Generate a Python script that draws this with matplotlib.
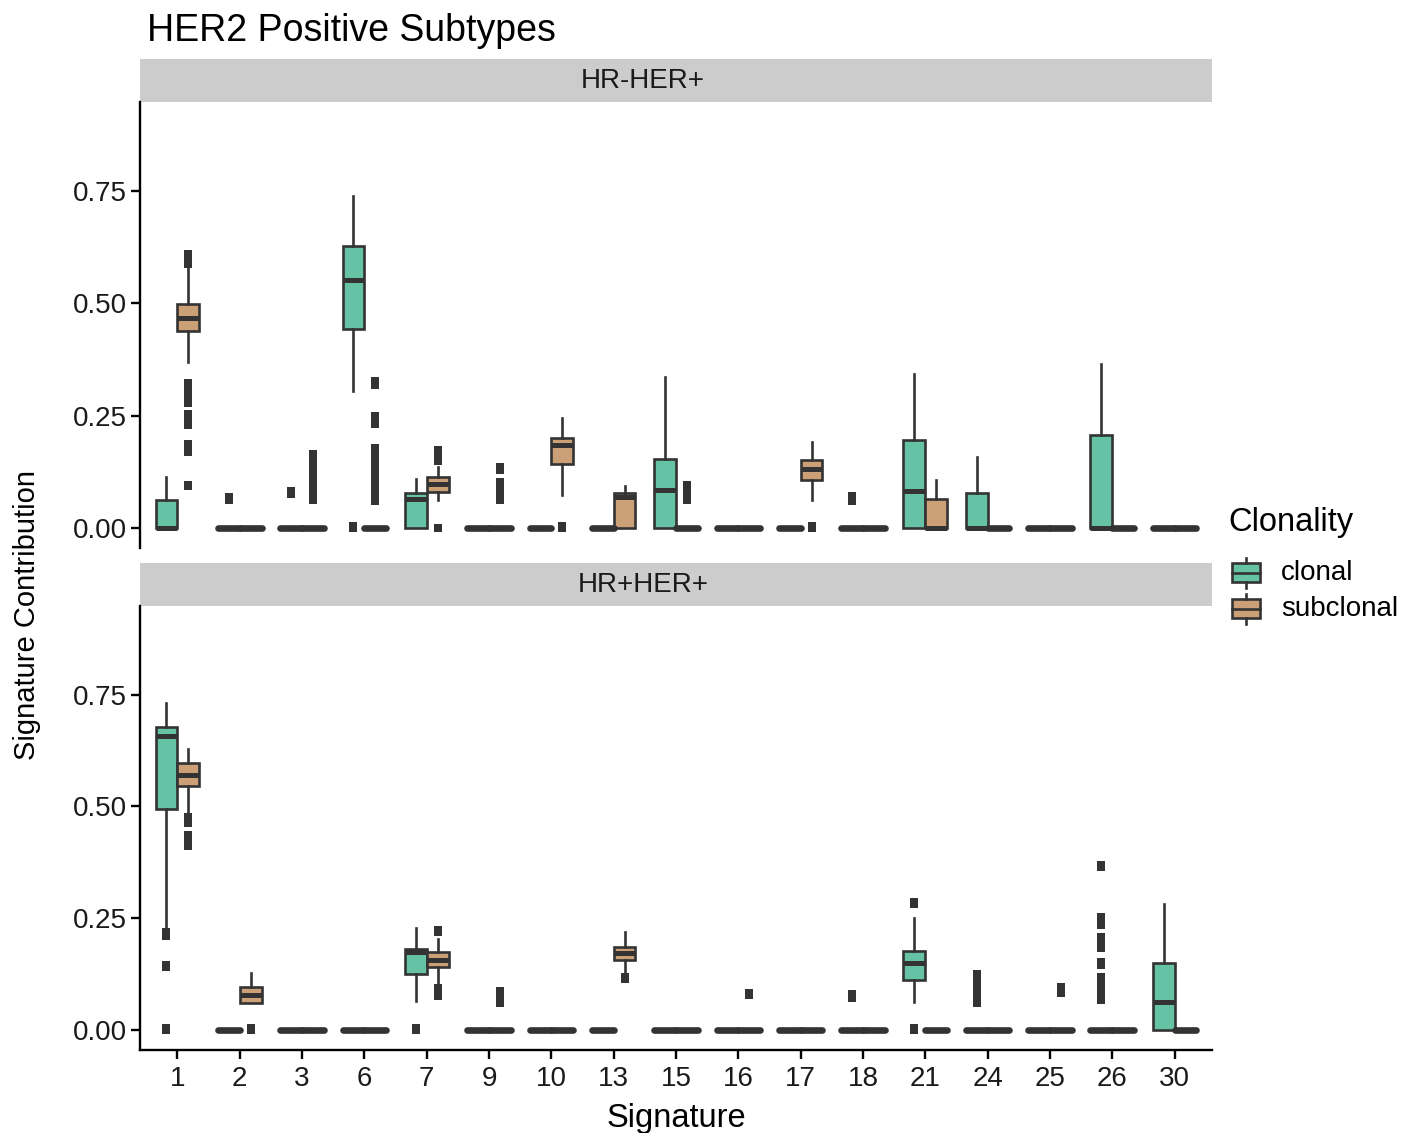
import numpy as np
import matplotlib.pyplot as plt
from matplotlib.patches import Rectangle
from matplotlib.lines import Line2D

plt.rcParams['font.family'] = ['Liberation Sans', 'DejaVu Sans']

signatures = ['1', '2', '3', '6', '7', '9', '10', '13', '15', '16', '17', '18',
              '21', '24', '25', '26', '30']
clonality = ['clonal', 'subclonal']
subtypes = ['HR-HER+', 'HR+HER+']
fills = ['#66C2A5', '#CBA077']
edge = '#333333'

# ---- HR-HER+ : box summaries per signature ----
neg_clonal_lo  = [0, 0, 0, 0.304, 0, 0, 0, 0, 0, 0, 0, 0, 0, 0, 0, 0, 0]
neg_clonal_q1  = [0, 0, 0, 0.443, 0, 0, 0, 0, 0, 0, 0, 0, 0, 0, 0, 0, 0]
neg_clonal_med = [0, 0, 0, 0.551, 0.065, 0, 0, 0, 0.084, 0, 0, 0, 0.082, 0, 0, 0, 0]
neg_clonal_q3  = [0.062, 0, 0, 0.627, 0.077, 0, 0, 0, 0.153, 0, 0, 0, 0.196, 0.077, 0, 0.207, 0]
neg_clonal_hi  = [0.113, 0, 0, 0.739, 0.109, 0, 0, 0, 0.335, 0, 0, 0, 0.342, 0.158, 0, 0.365, 0]
neg_clonal_out = [[], [0.062, 0.068], [0.075, 0.081], [0.0, 0.004], [], [], [], [], [],
                  [], [], [0.059, 0.065, 0.070], [], [], [], [], []]

neg_sub_lo  = [0.369, 0, 0, 0, 0.062, 0, 0.074, 0, 0, 0, 0.062, 0, 0, 0, 0, 0, 0]
neg_sub_q1  = [0.439, 0, 0, 0, 0.080, 0, 0.141, 0, 0, 0, 0.1065, 0, 0, 0, 0, 0, 0]
neg_sub_med = [0.467, 0, 0, 0, 0.0975, 0, 0.1845, 0.069, 0, 0, 0.130, 0, 0, 0, 0, 0, 0]
neg_sub_q3  = [0.499, 0, 0, 0, 0.112, 0, 0.201, 0.077, 0, 0, 0.151, 0, 0.064, 0, 0, 0, 0]
neg_sub_hi  = [0.579, 0, 0, 0, 0.135, 0, 0.2455, 0.093, 0, 0, 0.190, 0, 0.1065, 0, 0, 0, 0]
neg_sub_out = [
    [0.609, 0.602, 0.595, 0.588, 0.323, 0.314, 0.305, 0.296, 0.287, 0.277,
     0.254, 0.246, 0.238, 0.229, 0.1875, 0.178, 0.169, 0.096, 0.092],
    [],
    [0.164, 0.152, 0.140, 0.128, 0.116, 0.104, 0.092, 0.080, 0.070, 0.061],
    [0.326, 0.319, 0.249, 0.240, 0.230, 0.178, 0.166, 0.154, 0.142, 0.130,
     0.118, 0.106, 0.094, 0.082, 0.070, 0.059],
    [0.173, 0.165, 0.157, 0.149, 0.0],
    [0.136, 0.129, 0.101, 0.090, 0.079, 0.068, 0.062],
    [0.0, 0.004],
    [],
    [0.096, 0.085, 0.073, 0.061],
    [],
    [0.0, 0.004],
    [], [], [], [], [], []]

# ---- HR+HER+ : box summaries per signature ----
pos_clonal_lo  = [0.230, 0, 0, 0, 0.065, 0, 0, 0, 0, 0, 0, 0, 0.063, 0, 0, 0, 0]
pos_clonal_q1  = [0.493, 0, 0, 0, 0.125, 0, 0, 0, 0, 0, 0, 0, 0.1116, 0, 0, 0, 0]
pos_clonal_med = [0.658, 0, 0, 0, 0.175, 0, 0, 0, 0, 0, 0, 0, 0.150, 0, 0, 0, 0.063]
pos_clonal_q3  = [0.677, 0, 0, 0, 0.181, 0, 0, 0, 0, 0, 0, 0, 0.177, 0, 0, 0, 0.149]
pos_clonal_hi  = [0.731, 0, 0, 0, 0.228, 0, 0, 0, 0, 0, 0, 0, 0.2507, 0, 0, 0, 0.2805]
pos_clonal_out = [
    [0.218, 0.211, 0.145, 0.140, 0.0, 0.005],
    [], [], [],
    [0.0, 0.004],
    [], [], [], [], [], [],
    [0.071, 0.080],
    [0.281, 0.287, 0.0, 0.004],
    [0.126, 0.115, 0.104, 0.093, 0.082, 0.071, 0.059],
    [],
    [0.364, 0.368, 0.253, 0.244, 0.2355, 0.2075, 0.195, 0.183, 0.152, 0.146,
     0.119, 0.108, 0.097, 0.086, 0.075, 0.0675],
    []]

pos_sub_lo  = [0.484, 0.0595, 0, 0, 0.100, 0, 0, 0.130, 0, 0, 0, 0, 0, 0, 0, 0, 0]
pos_sub_q1  = [0.545, 0.0595, 0, 0, 0.140, 0, 0, 0.156, 0, 0, 0, 0, 0, 0, 0, 0, 0]
pos_sub_med = [0.571, 0.078, 0, 0, 0.156, 0, 0, 0.171, 0, 0, 0, 0, 0, 0, 0, 0, 0]
pos_sub_q3  = [0.597, 0.0967, 0, 0, 0.1734, 0, 0, 0.186, 0, 0, 0, 0, 0, 0, 0, 0, 0]
pos_sub_hi  = [0.629, 0.128, 0, 0, 0.2025, 0, 0, 0.218, 0, 0, 0, 0, 0, 0, 0, 0, 0]
pos_sub_out = [
    [0.475, 0.469, 0.463, 0.435, 0.427, 0.419, 0.411],
    [0.0, 0.004],
    [], [],
    [0.223, 0.219, 0.094, 0.085, 0.076],
    [0.087, 0.078, 0.069, 0.061],
    [],
    [0.114, 0.118],
    [],
    [0.079, 0.083],
    [], [], [], [],
    [0.083, 0.089, 0.096],
    [], []]


def box_stats(lo, q1, med, q3, hi, out):
    return [dict(whislo=a, q1=b, med=c, q3=d, whishi=e, fliers=f)
            for a, b, c, d, e, f in zip(lo, q1, med, q3, hi, out)]


panels = {
    'HR-HER+': [box_stats(neg_clonal_lo, neg_clonal_q1, neg_clonal_med,
                          neg_clonal_q3, neg_clonal_hi, neg_clonal_out),
                box_stats(neg_sub_lo, neg_sub_q1, neg_sub_med,
                          neg_sub_q3, neg_sub_hi, neg_sub_out)],
    'HR+HER+': [box_stats(pos_clonal_lo, pos_clonal_q1, pos_clonal_med,
                          pos_clonal_q3, pos_clonal_hi, pos_clonal_out),
                box_stats(pos_sub_lo, pos_sub_q1, pos_sub_med,
                          pos_sub_q3, pos_sub_hi, pos_sub_out)],
}

W, H = 1416, 1133
fig = plt.figure(figsize=(W / 100, H / 100), dpi=100)


def px_axes(x0, y0, x1, y1):
    return fig.add_axes([x0 / W, 1 - y1 / H, (x1 - x0) / W, (y1 - y0) / H])


panel_rows = [(59, 102, 548), (563, 606, 1050)]
x = np.arange(1, len(signatures) + 1)
box_w = 0.35
lw = 1.9

for (strip_top, top, bottom), name in zip(panel_rows, subtypes):
    strip = px_axes(140, strip_top, 1212, top)
    strip.set_facecolor('#CCCCCC')
    strip.set_xticks([])
    strip.set_yticks([])
    for s in strip.spines.values():
        s.set_visible(False)
    strip.text(0.469, 0.5, name, ha='center', va='center', fontsize=20,
               color='#1A1A1A', transform=strip.transAxes)

    ax = px_axes(140, top, 1212, bottom)
    for k, stats in enumerate(panels[name]):
        art = ax.bxp(stats, positions=x + (k - 0.5) * box_w, widths=box_w,
                     patch_artist=True, showcaps=False, manage_ticks=False,
                     boxprops=dict(facecolor=fills[k], edgecolor=edge, linewidth=lw),
                     whiskerprops=dict(color=edge, linewidth=lw),
                     medianprops=dict(color=edge, linewidth=3.6, solid_capstyle='butt'),
                     flierprops=dict(marker='s', markersize=5.8, markerfacecolor=edge,
                                     markeredgewidth=0, linestyle='none'))
        for line, st in zip(art['medians'], stats):
            if st['q1'] == st['q3']:
                line.set_solid_capstyle('round')
                line.set_linewidth(4.8)

    ax.set_xlim(0.4, len(signatures) + 0.6)
    ax.set_ylim(-0.045, 0.948)
    ax.set_yticks([0, 0.25, 0.5, 0.75])
    ax.set_yticklabels(['0.00', '0.25', '0.50', '0.75'])
    for s in ['top', 'right']:
        ax.spines[s].set_visible(False)
    ax.spines['left'].set_linewidth(1.7)
    ax.spines['bottom'].set_linewidth(1.7)
    ax.tick_params(axis='both', length=6.5, width=1.7, labelsize=20, colors='black',
                   labelcolor='#1A1A1A', pad=3)
    if name == subtypes[0]:
        ax.spines['bottom'].set_visible(False)
        ax.set_xticks([])
    else:
        ax.set_xticks(x)
        ax.set_xticklabels(signatures)
        ax.tick_params(axis='x', pad=5)
        ax.set_xlabel('Signature', fontsize=23.5, labelpad=8)

fig.text(147 / W, 1 - 31 / H, 'HER2 Positive Subtypes', fontsize=27,
         ha='left', va='center')
fig.text(27 / W, 1 - 615 / H, 'Signature Contribution', fontsize=21,
         rotation=90, ha='center', va='center')

# legend drawn in pixel coordinates
leg = px_axes(1220, 500, W, 640)
leg.set_xlim(1220, W)
leg.set_ylim(640, 500)
leg.axis('off')
leg.text(1228, 523, 'Clonality', fontsize=23.5, ha='left', va='center')
for k, (label, fc) in enumerate(zip(clonality, fills)):
    yc = 572.5 + k * 36
    leg.add_patch(Rectangle((1232, yc - 9.5), 28, 19, facecolor=fc,
                            edgecolor=edge, linewidth=lw))
    leg.add_line(Line2D([1246, 1246], [yc - 15, yc - 9.5], color=edge, linewidth=lw))
    leg.add_line(Line2D([1246, 1246], [yc + 9.5, yc + 15], color=edge, linewidth=lw))
    leg.add_line(Line2D([1232, 1260], [yc, yc], color=edge, linewidth=lw))
    leg.text(1281, yc, label, fontsize=20, ha='left', va='center')

fig.savefig('out.png', dpi=100)
